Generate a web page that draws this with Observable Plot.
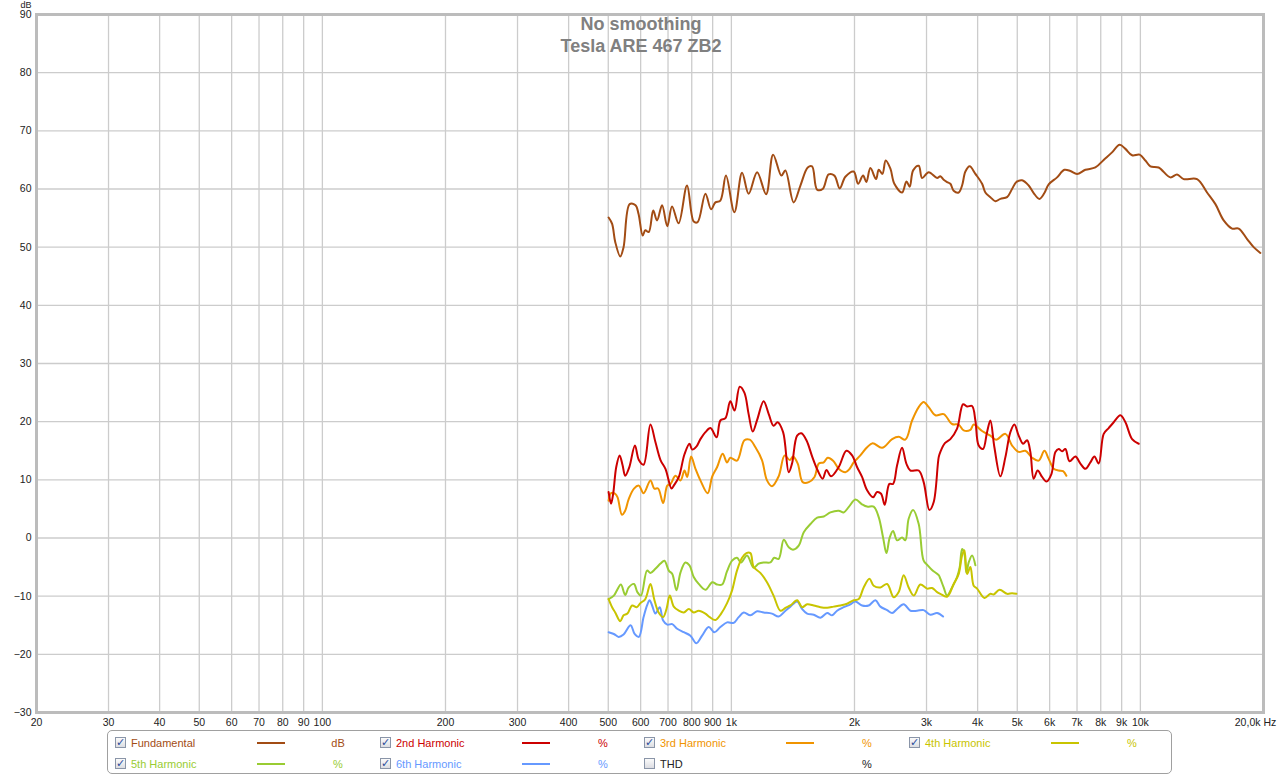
<!DOCTYPE html>
<html>
<head>
<meta charset="utf-8">
<script src="https://cdn.jsdelivr.net/npm/d3@7"></script>
<script src="https://cdn.jsdelivr.net/npm/@observablehq/plot@0.6"></script>
<style>
  html, body { margin: 0; padding: 0; background: #fff; }
  #wrap { position: relative; width: 1280px; height: 776px; overflow: hidden; font-family: "Liberation Sans", Arial, sans-serif; }
  #chart { position: absolute; left: 0; top: 0; }
  #legend { position: absolute; left: 107px; top: 730px; width: 1065px; height: 44px; border: 1px solid #a0a0a0; border-radius: 5px; box-sizing: border-box; }
  .lg { position: absolute; font-size: 11px; line-height: 12px; white-space: nowrap; }
  .cb { position: absolute; width: 11px; height: 11px; border: 1px solid #8a95a8; background: linear-gradient(#fbfbfb, #dcdde2); box-sizing: border-box; font-size: 11px; line-height: 10px; text-align: center; color: #2b4d9c; font-weight: bold; font-family: "DejaVu Sans", sans-serif; }
  .sw { position: absolute; height: 2px; width: 28px; }
</style>
</head>
<body>
<div id="wrap">
  <div id="chart"></div>
  <div id="legend"></div>
</div>
<script>
// ---- Data (frequency in Hz, level in dB) ----
const titleLines = ["No smoothing", "Tesla ARE 467 ZB2"];
const yUnit = "dB";
const yTicks = [-30, -20, -10, 0, 10, 20, 30, 40, 50, 60, 70, 80, 90];
const xTicks = [20, 30, 40, 50, 60, 70, 80, 90, 100, 200, 300, 400, 500, 600, 700, 800, 900, 1000, 2000, 3000, 4000, 5000, 6000, 7000, 8000, 9000, 10000];
const xTickLabels = ["20", "30", "40", "50", "60", "70", "80", "90", "100", "200", "300", "400", "500", "600", "700", "800", "900", "1k", "2k", "3k", "4k", "5k", "6k", "7k", "8k", "9k", "10k"];
const xEndTick = 20000;
const xEndLabel = "20,0k Hz";

const fundamental = [[501,55.1],[511,54.0],[520,50.9],[535,48.4],[545,50.0],[564,57.4],[583,57.2],[593,55.7],[607,52.0],[616,52.9],[628,52.6],[644,56.3],[658,54.6],[677,57.2],[697,53.6],[716,57.0],[743,54.1],[779,60.6],[809,54.4],[827,54.3],[864,59.2],[892,56.5],[914,57.7],[940,58.0],[970,62.3],[1017,56.0],[1062,62.8],[1102,59.2],[1156,62.9],[1216,59.1],[1265,65.9],[1325,62.3],[1355,63.2],[1420,57.7],[1475,60.6],[1537,63.7],[1575,63.9],[1620,59.9],[1672,60.0],[1729,62.5],[1786,62.3],[1840,60.1],[1900,62.1],[1991,63.0],[2041,60.9],[2099,62.3],[2138,61.2],[2187,63.6],[2258,61.7],[2292,63.3],[2340,62.6],[2384,64.9],[2448,63.5],[2503,60.9],[2615,59.4],[2679,61.3],[2729,60.4],[2782,63.2],[2871,64.0],[2927,61.9],[3037,62.9],[3184,61.9],[3243,62.2],[3304,61.6],[3368,61.2],[3431,60.9],[3495,59.7],[3595,59.4],[3665,60.6],[3734,63.0],[3825,63.9],[3950,62.6],[4102,60.9],[4178,59.4],[4298,58.6],[4421,57.9],[4547,58.3],[4721,58.6],[4856,60.0],[4975,61.2],[5137,61.5],[5332,60.6],[5484,59.3],[5664,58.3],[5825,59.3],[5968,60.8],[6256,62.0],[6519,63.3],[6744,63.1],[7002,62.6],[7337,63.3],[7762,63.7],[8133,65.0],[8525,66.3],[8899,67.6],[9191,66.9],[9544,65.8],[9961,65.9],[10285,64.9],[10578,63.9],[11083,63.7],[11837,62.0],[12292,62.5],[12758,61.7],[13758,61.7],[14556,59.4],[15256,57.4],[15985,54.6],[16757,53.2],[17391,53.2],[18236,51.4],[18923,50.0],[19650,49.0]];

const harmonic2 = [[501,7.9],[508,5.9],[514,7.6],[523,12.2],[533,14.2],[542,12.5],[550,10.7],[563,12.2],[581,15.9],[594,13.4],[610,12.6],[634,19.5],[652,16.5],[671,13.4],[690,11.9],[714,8.5],[723,9.0],[744,10.5],[768,14.4],[790,16.2],[802,15.2],[821,15.7],[840,17.0],[864,18.2],[889,18.9],[920,17.3],[940,20.2],[967,20.6],[994,23.5],[1018,21.9],[1048,26.0],[1076,25.0],[1102,21.3],[1128,18.3],[1156,20.3],[1199,23.5],[1234,21.3],[1268,19.3],[1297,19.9],[1338,18.2],[1381,11.3],[1407,12.8],[1448,17.6],[1483,18.0],[1526,16.8],[1576,14.0],[1626,11.6],[1672,10.2],[1708,11.7],[1753,10.6],[1830,12.2],[1911,15.0],[1973,14.2],[2029,12.2],[2087,10.5],[2147,8.2],[2220,7.0],[2271,7.9],[2323,7.6],[2371,5.7],[2434,9.3],[2485,9.3],[2542,12.5],[2614,15.5],[2678,12.8],[2740,11.6],[2871,11.6],[2952,9.6],[3049,4.8],[3124,6.2],[3213,13.9],[3243,14.8],[3327,16.3],[3431,17.0],[3563,18.8],[3686,23.0],[3770,22.6],[3877,22.7],[3950,20.2],[4024,15.9],[4124,15.3],[4218,18.2],[4298,20.2],[4396,15.6],[4547,10.6],[4677,13.9],[4810,18.2],[4920,19.5],[5040,17.6],[5167,16.2],[5285,16.8],[5383,14.8],[5484,10.2],[5609,11.6],[5750,10.5],[5891,9.7],[6060,11.0],[6198,14.8],[6315,15.3],[6435,14.9],[6556,15.3],[6710,13.2],[6937,14.0],[7134,12.8],[7338,11.9],[7547,13.0],[7719,14.0],[7909,12.8],[8134,17.9],[8366,18.9],[8606,19.9],[8936,21.1],[9192,19.9],[9545,17.0],[9907,16.2]];

const harmonic3 = [[501,6.4],[508,7.7],[520,7.6],[527,7.0],[540,4.0],[550,4.7],[561,6.7],[578,8.5],[594,9.0],[610,7.7],[634,9.9],[648,8.5],[662,8.5],[681,6.0],[697,9.0],[710,9.3],[730,10.7],[751,9.9],[768,11.6],[780,10.5],[797,14.0],[817,11.9],[840,9.9],[875,7.7],[898,10.6],[923,12.2],[952,14.5],[976,13.0],[994,13.8],[1032,13.3],[1076,16.8],[1109,16.9],[1145,15.6],[1188,13.4],[1222,9.9],[1257,8.9],[1305,10.6],[1350,14.2],[1389,13.4],[1415,14.0],[1453,12.8],[1494,9.6],[1546,9.6],[1597,10.5],[1636,12.8],[1682,13.0],[1720,13.8],[1773,13.3],[1830,11.9],[1900,11.3],[1947,11.9],[1991,13.0],[2067,14.2],[2147,15.6],[2215,16.3],[2336,15.5],[2472,17.0],[2565,17.4],[2663,16.9],[2766,20.2],[2871,22.5],[2952,23.4],[3037,22.5],[3154,21.1],[3304,21.3],[3464,19.6],[3595,19.5],[3698,18.5],[3840,18.6],[3912,19.5],[4101,18.4],[4298,17.6],[4438,16.9],[4677,17.9],[4856,15.9],[5040,14.8],[5234,15.0],[5435,13.8],[5641,13.3],[5825,15.0],[5968,13.6],[6139,11.9],[6315,11.6],[6472,11.5],[6593,10.7]];

const harmonic4 = [[501,-10.5],[511,-11.9],[520,-12.8],[535,-14.3],[545,-13.3],[557,-13.0],[572,-11.6],[587,-11.9],[599,-11.2],[616,-10.5],[634,-7.9],[648,-10.6],[664,-12.8],[681,-13.6],[694,-12.2],[707,-9.9],[723,-11.8],[744,-12.5],[765,-12.8],[787,-12.2],[809,-12.8],[832,-12.5],[864,-13.0],[885,-13.6],[914,-14.1],[944,-13.0],[976,-11.2],[1004,-9.0],[1032,-5.6],[1062,-3.4],[1088,-2.6],[1113,-2.6],[1134,-5.0],[1177,-6.0],[1222,-7.6],[1268,-9.9],[1318,-12.5],[1356,-12.0],[1394,-11.6],[1448,-10.7],[1489,-11.9],[1532,-11.4],[1590,-11.6],[1651,-11.9],[1715,-12.0],[1779,-11.8],[1847,-11.6],[1918,-11.3],[1991,-10.7],[2048,-10.5],[2106,-8.5],[2176,-7.0],[2228,-8.2],[2314,-8.5],[2403,-7.9],[2494,-10.2],[2565,-9.3],[2638,-6.4],[2713,-8.5],[2792,-9.9],[2898,-8.0],[3010,-8.7],[3095,-8.6],[3184,-9.3],[3243,-9.6],[3368,-10.1],[3496,-7.9],[3595,-6.2],[3665,-3.0],[3713,-2.1],[3770,-6.2],[3840,-5.0],[3912,-8.2],[3988,-8.7],[4155,-10.3],[4298,-9.6],[4379,-9.7],[4527,-8.9],[4722,-9.6],[4856,-9.5],[4975,-9.6]];

const harmonic5 = [[501,-10.5],[516,-9.9],[525,-9.0],[537,-8.0],[550,-9.8],[561,-8.5],[578,-7.9],[589,-9.3],[601,-9.9],[622,-5.6],[634,-6.0],[652,-5.3],[671,-4.4],[686,-3.9],[703,-5.6],[717,-6.2],[734,-9.0],[751,-5.9],[772,-4.2],[790,-4.7],[809,-6.7],[832,-7.9],[864,-8.9],[898,-7.6],[923,-8.0],[949,-8.0],[976,-5.7],[1004,-3.9],[1032,-3.4],[1056,-4.2],[1092,-3.0],[1134,-5.1],[1166,-4.4],[1199,-4.2],[1245,-4.2],[1273,-3.4],[1305,-3.6],[1343,-0.3],[1381,-1.6],[1415,-2.0],[1461,-1.3],[1503,1.0],[1561,2.4],[1621,3.5],[1682,3.7],[1746,4.4],[1830,4.7],[1882,4.4],[1935,5.3],[2010,6.6],[2087,5.8],[2147,5.4],[2228,5.4],[2292,3.6],[2349,0.1],[2394,-2.6],[2439,0.1],[2485,1.2],[2542,-0.4],[2614,0.1],[2663,-0.4],[2713,3.3],[2782,4.8],[2871,2.4],[2952,-3.9],[3019,-4.7],[3095,-5.5],[3213,-6.4],[3243,-7.0],[3304,-8.5],[3368,-9.9],[3464,-8.5],[3563,-6.7],[3616,-5.0],[3665,-1.9],[3713,-2.7],[3755,-6.0],[3804,-4.2],[3877,-3.0],[3950,-4.7]];

const harmonic6 = [[501,-16.2],[516,-16.5],[530,-17.0],[545,-16.6],[567,-15.0],[580,-16.5],[594,-17.0],[610,-13.6],[622,-11.6],[631,-10.7],[640,-11.6],[652,-13.0],[668,-11.9],[681,-14.2],[697,-14.9],[717,-14.8],[737,-15.6],[765,-16.2],[794,-16.8],[821,-18.1],[848,-16.8],[880,-15.3],[909,-16.2],[940,-15.3],[976,-14.5],[1013,-14.6],[1042,-13.6],[1072,-12.8],[1113,-13.3],[1156,-12.6],[1199,-12.8],[1257,-13.0],[1305,-13.5],[1356,-12.5],[1394,-11.8],[1448,-10.9],[1489,-12.2],[1532,-13.0],[1590,-13.2],[1651,-13.7],[1715,-12.9],[1763,-13.3],[1813,-12.5],[1882,-11.9],[1954,-11.4],[2010,-10.9],[2087,-11.6],[2166,-11.6],[2250,-10.7],[2314,-11.8],[2403,-12.4],[2472,-12.9],[2542,-12.2],[2638,-11.4],[2740,-12.5],[2845,-12.5],[2952,-12.4],[3066,-13.2],[3184,-12.9],[3293,-13.5]];

const seriesNames = ["Fundamental", "2nd Harmonic", "3rd Harmonic", "4th Harmonic", "5th Harmonic", "6th Harmonic", "THD"];
const seriesUnits = ["dB", "%", "%", "%", "%", "%", "%"];
const seriesColors = ["#a24c14", "#cc0000", "#f09400", "#c8c400", "#99cc33", "#6699ff", "#222222"];
const seriesChecked = [true, true, true, true, true, true, false];
const seriesData = [fundamental, harmonic2, harmonic3, harmonic4, harmonic5, harmonic6, []];

// ---- Chart ----
const rows = [];
seriesData.forEach((arr, s) => arr.forEach(([f, v]) => rows.push({series: seriesNames[s], f, v})));

const drawOrder = [5, 4, 3, 2, 1, 0];
const lineMarks = drawOrder.map(s => Plot.line(rows.filter(r => r.series === seriesNames[s]), {
  x: "f", y: "v", stroke: seriesColors[s], strokeWidth: 2, curve: "catmull-rom"
}));

const xLabelRows = xTicks.map((t, i) => ({t, label: xTickLabels[i]}));

const chart = Plot.plot({
  width: 1280,
  height: 730,
  marginLeft: 36,
  marginRight: 17,
  marginTop: 14,
  marginBottom: 18,
  style: {fontFamily: "'Liberation Sans', Arial, sans-serif", fontSize: "10.5px", color: "#222", background: "#fff", overflow: "visible"},
  x: {type: "log", domain: [20, 20000], label: null, axis: null},
  y: {domain: [-30, 90], label: null},
  marks: [
    Plot.ruleX(xTicks, {stroke: "#cccccc", strokeWidth: 1.3}),
    Plot.ruleY(yTicks, {stroke: "#cccccc", strokeWidth: 1.3}),
    Plot.frame({stroke: "#bcbcbc", strokeWidth: 3}),
    Plot.axisY({ticks: yTicks, tickSize: 0, tickPadding: 5, label: null, fill: "#222"}),
    Plot.text(xLabelRows, {x: "t", text: "label", frameAnchor: "bottom", lineAnchor: "top", dy: 6, fill: "#222"}),
    Plot.text([xEndLabel], {x: () => xEndTick, frameAnchor: "bottom", lineAnchor: "top", dy: 6, dx: -8, fill: "#222"}),
    Plot.text([yUnit], {frameAnchor: "top-left", lineAnchor: "top", textAnchor: "end", dx: -5, dy: -12.5, fontSize: 9, fill: "#222"}),
    ...lineMarks,
    Plot.text([titleLines[0]], {frameAnchor: "top", lineAnchor: "top", dx: -9, dy: 3, fontSize: 18, fontWeight: "bold", fill: "#808080"}),
    Plot.text([titleLines[1]], {frameAnchor: "top", lineAnchor: "top", dx: -9, dy: 25, fontSize: 18, fontWeight: "bold", fill: "#808080"})
  ]
});
document.getElementById("chart").appendChild(chart);

// ---- Legend ----
const legend = document.getElementById("legend");
const legendSlots = [[0,0],[0,1],[0,2],[0,3],[1,0],[1,1],[1,2]]; // [row, col]
const colX = [7, 272, 536, 801];
const rowY = [6, 27];
seriesNames.forEach((name, i) => {
  const [r, c] = legendSlots[i];
  const x0 = colX[c], y0 = rowY[r];
  const cb = document.createElement("div");
  cb.className = "cb";
  cb.style.left = x0 + "px"; cb.style.top = y0 + "px";
  cb.textContent = seriesChecked[i] ? "✓" : "";
  legend.appendChild(cb);
  const lb = document.createElement("div");
  lb.className = "lg";
  lb.style.left = (x0 + 16) + "px"; lb.style.top = y0 + "px";
  lb.style.color = seriesColors[i];
  lb.textContent = name;
  legend.appendChild(lb);
  if (i < 6) {
    const sw = document.createElement("div");
    sw.className = "sw";
    sw.style.left = (x0 + 142) + "px"; sw.style.top = (y0 + 5) + "px";
    sw.style.background = seriesColors[i];
    legend.appendChild(sw);
  }
  const un = document.createElement("div");
  un.className = "lg";
  un.style.left = (x0 + 215) + "px"; un.style.top = y0 + "px";
  un.style.width = "16px"; un.style.textAlign = "center";
  un.style.color = seriesColors[i];
  un.textContent = seriesUnits[i];
  legend.appendChild(un);
});
</script>
</body>
</html>
